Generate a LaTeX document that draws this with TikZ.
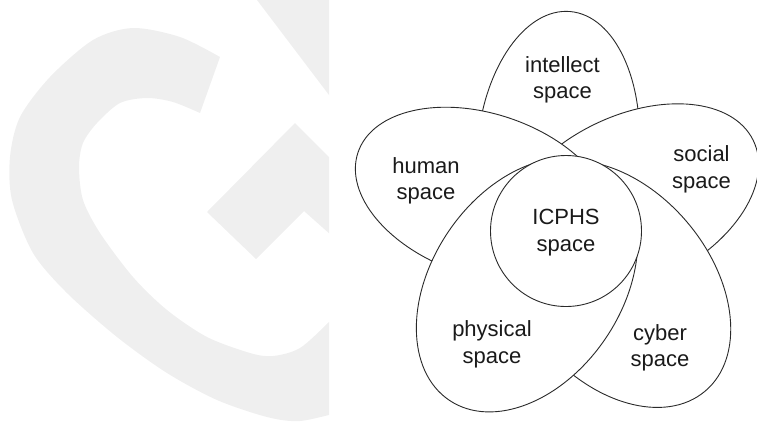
\documentclass[tikz,border=0pt]{standalone}
\usepackage{fontspec}
\setmainfont{Liberation Sans}
\usetikzlibrary{shapes.geometric}
\definecolor{wm}{HTML}{EFEFEF}
\definecolor{edgec}{HTML}{2A2A2A}
\definecolor{txt}{HTML}{1A1A1A}
\pgfdeclareradialshading{petalshade}{\pgfpoint{0bp}{0bp}}{color(0bp)=(white); color(36bp)=(white); color(46bp)=(black!6); color(50bp)=(black!14); color(72bp)=(black!14)}
\begin{document}
\begin{tikzpicture}[x=1bp,y=-1bp,
  petal/.style={ellipse, draw=edgec, line width=0.9bp, shading=petalshade, inner sep=0pt, outer sep=0pt},
  lbl/.style={font=\fontsize{22bp}{26.6bp}\selectfont, align=center, text=txt, inner sep=0pt}]
\useasboundingbox (0,0) rectangle (757,423);
% watermark
\begin{scope}
\clip (0,0) rectangle (329,423);
\fill[wm] plot[smooth] coordinates {(220,57) (180,37) (133,28) (93,40) (50,77) (20,117) (10,157) (12,200) (33,253) (67,293) (117,337) (167,373) (217,400) (267,417) (300,421) (340,412)}
  -- plot[smooth] coordinates {(340,310) (329,322) (300,348) (273,356) (250,353) (207,337) (167,310) (133,277) (100,233) (83,200) (79,167) (83,143) (97,123) (120,103) (147,98) (173,102) (200,113)} -- cycle;
\fill[wm] (257,0) -- (340,0) -- (340,109.5) -- cycle;
\fill[wm] (207,212) -- (295,123) -- (340,168) -- (340,243) -- (304,211) -- (256,259) -- cycle;
\end{scope}
% petals
\node[petal, minimum width=280bp, minimum height=162bp, rotate=85] (intellect) at (558,151) {};
\node[petal, minimum width=272bp, minimum height=168bp, rotate=26] (social) at (631,200) {};
\node[petal, minimum width=266bp, minimum height=162bp, rotate=-18.7] (human) at (484,195) {};
\node[petal, minimum width=280bp, minimum height=190bp, rotate=-50] (cyber) at (615,284) {};
\node[petal, minimum width=278bp, minimum height=190bp, rotate=56] (physical) at (527,285) {};
\node[petal, circle, minimum size=151bp] (icphs) at (566,231) {};
% labels
\node[lbl] (tintellect) at (562.5,80) {intellect\\space};
\node[lbl] (thuman) at (426,181) {human\\space};
\node[lbl] (tsocial) at (701.5,169.4) {social\\space};
\node[lbl] (ticphs) at (566,232.7) {ICPHS\\space};
\node[lbl] (tphysical) at (492,344.4) {physical\\space};
\node[lbl] (tcyber) at (660,347.7) {cyber\\space};
\end{tikzpicture}
\end{document}
